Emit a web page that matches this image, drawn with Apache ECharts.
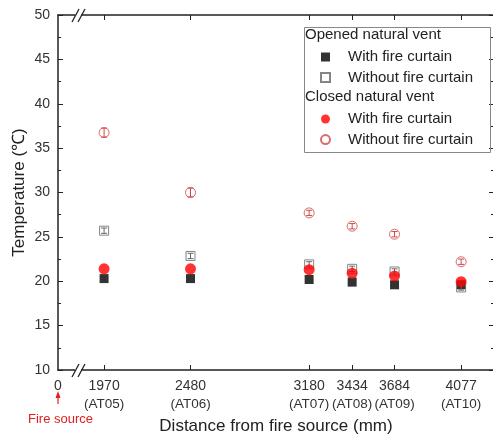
<!DOCTYPE html>
<html>
<head>
<meta charset="utf-8">
<script src="https://cdn.jsdelivr.net/npm/echarts@6/dist/echarts.min.js"></script>
<style>
  html, body { margin: 0; padding: 0; background: #fff; }
  #chart { width: 493px; height: 439px; }
</style>
</head>
<body>
<div id="chart"></div>
<script>
// measurement positions (mm from fire source) and thermocouple ids
const positions = [1970, 2480, 3180, 3434, 3684, 4077]
const sensorIds = ['AT05', 'AT06', 'AT07', 'AT08', 'AT09', 'AT10']

// temperatures
const openedWithCurtain = [20.3, 20.3, 20.2, 19.9, 19.6, 19.6]
const openedWithoutCurtain = [25.7, 22.85, 21.9, 21.4, 21.1, 19.3]
const closedWithCurtain = [21.4, 21.4, 21.3, 20.9, 20.6, 19.95]
const closedWithoutCurtain = [36.75, 30.0, 27.7, 26.2, 25.3, 22.2]

// error bars (half-width)
const openedWithoutErr = [0.3, 0.3, 0.3, 0.3, 0.3, 0.3]
const closedWithoutErr = [0.5, 0.5, 0.3, 0.3, 0.3, 0.3]

const xStart = 1698   // left edge of the broken axis, labelled "0"
const xEnd = 4271

const font = 'Liberation Sans, Arial, sans-serif'
const axisColor = '#222'

function pairs(ys) {
  return positions.map((x, i) => [x, ys[i]])
}

function errData(ys, errs) {
  return positions.map((x, i) => [x, ys[i], errs[i]])
}

function errorSeries(ys, errs, color) {
  return {
    type: 'custom',
    data: errData(ys, errs),
    silent: true,
    z: 3,
    renderItem: (params, api) => {
      const x = api.value(0)
      const y = api.value(1)
      const e = api.value(2)
      const top = api.coord([x, y + e])
      const bot = api.coord([x, y - e])
      const w = 3
      const style = { stroke: color, lineWidth: 1 }
      return {
        type: 'group',
        children: [
          { type: 'line', shape: { x1: top[0], y1: top[1], x2: bot[0], y2: bot[1] }, style },
          { type: 'line', shape: { x1: top[0] - w, y1: top[1], x2: top[0] + w, y2: top[1] }, style },
          { type: 'line', shape: { x1: bot[0] - w, y1: bot[1], x2: bot[0] + w, y2: bot[1] }, style }
        ]
      }
    }
  }
}

const chart = echarts.init(document.getElementById('chart'))

const labelValues = [xStart].concat(positions)

const legendBase = {
  orient: 'vertical',
  left: 320,
  padding: 0,
  itemWidth: 9,
  itemHeight: 9,
  itemGap: 0.6,
  formatter: (name) => name.trim(),
  textStyle: { fontSize: 15, color: '#222', lineHeight: 20, padding: [0, 0, 0, 13], fontFamily: font }
}

const option = {
  animation: false,
  textStyle: { fontFamily: font },
  grid: { left: 58, width: 436, top: 15, height: 355, outerBoundsMode: 'none', containLabel: false },
  xAxis: [
    {
      type: 'value',
      min: xStart,
      max: xEnd,
      position: 'bottom',
      name: 'Distance from fire source (mm)',
      nameLocation: 'middle',
      nameGap: 48,
      nameMoveOverlap: false,
      nameTextStyle: { fontSize: 17, color: '#222', fontFamily: font },
      axisLine: { lineStyle: { color: axisColor, width: 1.5 } },
      axisTick: { inside: true, length: 5, customValues: positions, lineStyle: { color: axisColor } },
      splitLine: { show: false },
      axisLabel: {
        customValues: labelValues,
        margin: 7,
        color: '#333',
        fontSize: 14,
        formatter: (v) => {
          if (v === xStart) return '{a|0}'
          const i = positions.indexOf(v)
          return '{a|' + v + '}\n{b|(' + sensorIds[i] + ')}'
        },
        rich: {
          a: { fontSize: 14, lineHeight: 18, color: '#333', fontFamily: font },
          b: { fontSize: 13.5, lineHeight: 18, color: '#333', fontFamily: font }
        }
      }
    },
    {
      type: 'value',
      min: xStart,
      max: xEnd,
      position: 'top',
      axisLine: { lineStyle: { color: axisColor, width: 1.5 } },
      axisTick: { inside: true, length: 5, customValues: positions, lineStyle: { color: axisColor } },
      axisLabel: { show: false },
      splitLine: { show: false }
    }
  ],
  yAxis: [
    {
      type: 'value',
      min: 10,
      max: 50,
      interval: 5,
      name: 'Temperature (℃)',
      nameLocation: 'middle',
      nameGap: 30,
      nameMoveOverlap: false,
      nameTextStyle: { fontSize: 17, color: '#222', fontFamily: font },
      axisLine: { show: true, lineStyle: { color: axisColor, width: 1.5 } },
      axisTick: { inside: true, length: 5, lineStyle: { color: axisColor } },
      minorTick: { show: true, splitNumber: 2, length: 3, lineStyle: { color: axisColor } },
      splitLine: { show: false },
      axisLabel: { color: '#333', fontSize: 14, margin: 8 }
    },
    {
      type: 'value',
      min: 10,
      max: 50,
      interval: 5,
      position: 'right',
      axisLine: { show: false },
      axisTick: { show: true, inside: true, length: 5, lineStyle: { color: axisColor } },
      minorTick: { show: true, splitNumber: 2, length: 3, lineStyle: { color: axisColor } },
      splitLine: { show: false },
      axisLabel: { show: false }
    }
  ],
  legend: [
    Object.assign({}, legendBase, { top: 47, data: ['With fire curtain', 'Without fire curtain'] }),
    Object.assign({}, legendBase, { top: 109, data: [' With fire curtain', ' Without fire curtain'] })
  ],
  series: [
    {
      name: 'With fire curtain',
      type: 'scatter',
      symbol: 'rect',
      symbolSize: 9,
      itemStyle: { color: '#000' },
      data: pairs(openedWithCurtain),
      z: 2
    },
    errorSeries(openedWithoutCurtain, openedWithoutErr, '#666'),
    {
      name: 'Without fire curtain',
      type: 'scatter',
      symbol: 'rect',
      symbolSize: 9,
      itemStyle: { color: 'rgba(0,0,0,0)', borderColor: '#666', borderWidth: 1 },
      data: pairs(openedWithoutCurtain),
      z: 3
    },
    {
      name: ' With fire curtain',
      type: 'scatter',
      symbol: 'circle',
      symbolSize: 11,
      itemStyle: { color: '#ff0000' },
      data: pairs(closedWithCurtain),
      z: 4
    },
    errorSeries(closedWithoutCurtain, closedWithoutErr, '#d04848'),
    {
      name: ' Without fire curtain',
      type: 'scatter',
      symbol: 'circle',
      symbolSize: 10,
      itemStyle: { color: 'rgba(0,0,0,0)', borderColor: '#d04848', borderWidth: 1 },
      data: pairs(closedWithoutCurtain),
      z: 4
    }
  ],
  graphic: [
    // legend frame and group headers
    { type: 'rect', left: 302, top: 25, shape: { width: 186, height: 125 }, style: { fill: 'none', stroke: '#888', lineWidth: 1 }, z: 5 },
    { type: 'text', left: 305, top: 27, style: { text: 'Opened natural vent', fontSize: 15, fill: '#222', fontFamily: font }, z: 6 },
    { type: 'text', left: 305, top: 89, style: { text: 'Closed natural vent', fontSize: 15, fill: '#222', fontFamily: font }, z: 6 },
    // axis break marks, bottom
    { type: 'rect', shape: { x: 75, y: 366, width: 6, height: 8 }, style: { fill: '#fff' }, z: 10 },
    { type: 'line', shape: { x1: 72, y1: 377, x2: 79, y2: 364 }, style: { stroke: axisColor, lineWidth: 1.3 }, z: 11 },
    { type: 'line', shape: { x1: 78, y1: 377, x2: 85, y2: 364 }, style: { stroke: axisColor, lineWidth: 1.3 }, z: 11 },
    // axis break marks, top
    { type: 'rect', shape: { x: 75, y: 11, width: 6, height: 8 }, style: { fill: '#fff' }, z: 10 },
    { type: 'line', shape: { x1: 72, y1: 22, x2: 79, y2: 9 }, style: { stroke: axisColor, lineWidth: 1.3 }, z: 11 },
    { type: 'line', shape: { x1: 78, y1: 22, x2: 85, y2: 9 }, style: { stroke: axisColor, lineWidth: 1.3 }, z: 11 },
    // fire source marker
    { type: 'line', shape: { x1: 58, y1: 397, x2: 58, y2: 404 }, style: { stroke: '#e02020', lineWidth: 1.2 } },
    { type: 'polygon', shape: { points: [[55.5, 398], [60.5, 398], [58, 391]] }, style: { fill: '#e02020' } },
    { type: 'text', left: 28, top: 413, style: { text: 'Fire source', fontSize: 13, fill: '#e02020', fontFamily: font } }
  ]
}

chart.setOption(option)
</script>
</body>
</html>
